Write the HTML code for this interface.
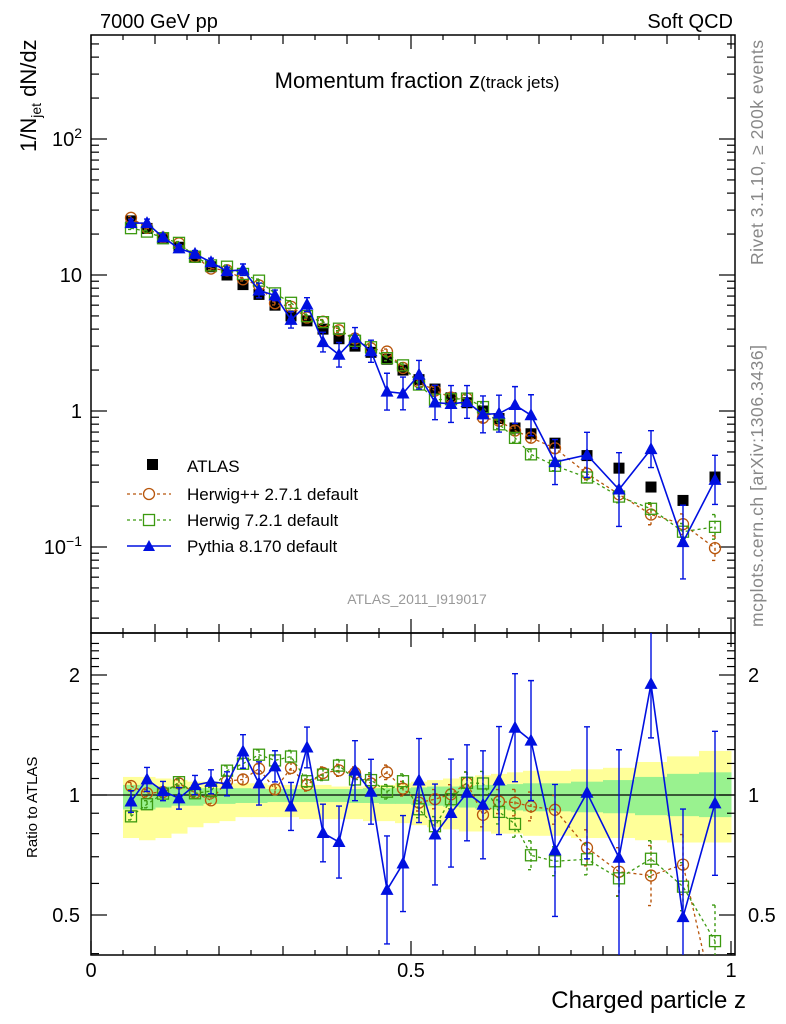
<!DOCTYPE html>
<html><head><meta charset="utf-8">
<style>
html,body{margin:0;padding:0;background:#fff;}
svg{display:block;font-family:"Liberation Sans",sans-serif;}
</style></head>
<body>
<svg id="c" width="786" height="1024" viewBox="0 0 786 1024" xmlns="http://www.w3.org/2000/svg">
<text x="100" y="28" font-size="20">7000 GeV pp</text>
<text x="733" y="28" font-size="20" text-anchor="end">Soft QCD</text>
<text x="417" y="88" font-size="22" text-anchor="middle">Momentum fraction z<tspan font-size="17">(track jets)</tspan></text>
<text transform="translate(36,152) rotate(-90)" font-size="22">1/N<tspan font-size="14" dy="5">jet</tspan><tspan dy="-5"> dN/dz</tspan></text>
<text transform="translate(37,858) rotate(-90)" font-size="15">Ratio to ATLAS</text>
<text x="746" y="1008" font-size="24" text-anchor="end">Charged particle z</text>
<text transform="translate(763,265) rotate(-90)" font-size="17.5" textLength="225" fill="#888">Rivet 3.1.10, ≥ 200k events</text>
<text transform="translate(763,627) rotate(-90)" font-size="17.5" textLength="282" fill="#888">mcplots.cern.ch [arXiv:1306.3436]</text>
<text x="417" y="604" font-size="14" fill="#999" text-anchor="middle">ATLAS_2011_I919017</text>
<g id="legend">
<rect x="147" y="459" width="11" height="11" fill="#000"/>
<text x="187" y="472" font-size="17">ATLAS</text>
<line x1="127" y1="494" x2="171" y2="494" stroke="#b8560c" stroke-width="1.3" stroke-dasharray="3,3"/>
<circle cx="149" cy="494" r="5.5" fill="#fff" stroke="#b8560c" stroke-width="1.3"/>
<text x="187" y="500" font-size="17">Herwig++ 2.7.1 default</text>
<line x1="127" y1="520" x2="171" y2="520" stroke="#3c9a10" stroke-width="1.3" stroke-dasharray="3,3"/>
<rect x="143.5" y="514.5" width="11" height="11" fill="#fff" stroke="#3c9a10" stroke-width="1.3"/>
<text x="187" y="526" font-size="17">Herwig 7.2.1 default</text>
<line x1="127" y1="546" x2="171" y2="546" stroke="#0010e0" stroke-width="1.5"/>
<polygon points="149,540 155,551 143,551" fill="#0010e0"/>
<text x="187" y="552" font-size="17">Pythia 8.170 default</text>
</g>
</svg>
<script>
const zCenters=[0.0625,0.0875,0.1125,0.1375,0.1625,0.1875,0.2125,0.2375,0.2625,0.2875,0.3125,0.3375,0.3625,0.3875,0.4125,0.4375,0.4625,0.4875,0.5125,0.5375,0.5625,0.5875,0.6125,0.6375,0.6625,0.6875,0.725,0.775,0.825,0.875,0.925,0.975];
const binEdges=[0.05,0.075,0.1,0.125,0.15,0.175,0.2,0.225,0.25,0.275,0.3,0.325,0.35,0.375,0.4,0.425,0.45,0.475,0.5,0.525,0.55,0.575,0.6,0.625,0.65,0.675,0.7,0.75,0.8,0.85,0.9,0.95,1.0];
const atlasVals=[25,22,18.5,16,13.5,11.5,10,8.5,7.2,6.0,5.0,4.6,4.0,3.4,3.0,2.7,2.4,2.0,1.7,1.45,1.25,1.15,1.0,0.88,0.75,0.68,0.58,0.47,0.38,0.276,0.22,0.327];
const herwigppRatio=[1.053,1.01,1.017,1.069,1.013,0.97,1.083,1.094,1.164,1.033,1.169,1.059,1.136,1.153,1.136,1.069,1.14,1.037,0.957,0.976,1.004,1.073,0.892,0.963,0.957,0.936,0.918,0.737,0.642,0.628,0.669,0.30];
const herwig7Ratio=[0.884,0.948,1.008,1.077,1.01,1.023,1.151,1.198,1.262,1.221,1.249,1.083,1.125,1.185,1.094,1.09,1.019,1.083,0.921,0.835,0.976,1.073,1.069,0.907,0.846,0.706,0.682,0.69,0.618,0.692,0.589,0.43];
const pythiaRatio=[0.963,1.094,1.023,0.981,1.059,1.079,1.067,1.286,1.069,1.18,0.936,1.316,0.803,0.762,1.151,1.019,0.578,0.673,1.087,0.796,0.901,1.013,0.945,1.087,1.475,1.369,0.726,1.013,0.696,1.9,0.494,0.953];
const herwigppErr=[0.03,0.03,0.03,0.03,0.03,0.03,0.04,0.04,0.04,0.04,0.05,0.05,0.05,0.05,0.05,0.06,0.06,0.06,0.07,0.08,0.08,0.09,0.1,0.1,0.11,0.12,0.12,0.15,0.2,0.25,0.25,0.3];
const herwig7Err=[0.03,0.03,0.03,0.03,0.03,0.03,0.04,0.04,0.04,0.04,0.05,0.05,0.05,0.05,0.05,0.06,0.06,0.06,0.07,0.08,0.08,0.09,0.1,0.1,0.11,0.12,0.12,0.13,0.15,0.15,0.2,0.3];
const pythiaErr=[0.09,0.1,0.08,0.09,0.08,0.1,0.1,0.14,0.18,0.13,0.2,0.17,0.24,0.3,0.25,0.27,0.45,0.4,0.35,0.42,0.45,0.4,0.45,0.45,0.45,0.5,0.55,0.55,0.9,0.45,0.9,0.6];
const yellowHi=[1.11,1.11,1.10,1.09,1.08,1.08,1.07,1.07,1.07,1.06,1.06,1.06,1.06,1.05,1.05,1.05,1.06,1.07,1.08,1.09,1.10,1.11,1.12,1.13,1.14,1.15,1.15,1.16,1.17,1.21,1.25,1.29];
const yellowLo=[0.78,0.77,0.78,0.80,0.83,0.85,0.86,0.88,0.88,0.88,0.88,0.87,0.87,0.87,0.87,0.86,0.86,0.85,0.84,0.83,0.82,0.81,0.81,0.80,0.80,0.79,0.79,0.78,0.78,0.77,0.76,0.76];
const greenHi=[1.06,1.06,1.05,1.05,1.04,1.04,1.04,1.04,1.035,1.035,1.035,1.035,1.035,1.035,1.035,1.04,1.04,1.04,1.045,1.05,1.05,1.055,1.06,1.06,1.065,1.07,1.07,1.08,1.09,1.11,1.13,1.14];
const greenLo=[0.92,0.92,0.93,0.94,0.94,0.95,0.95,0.955,0.955,0.96,0.96,0.96,0.96,0.96,0.955,0.955,0.95,0.95,0.945,0.94,0.935,0.93,0.925,0.92,0.915,0.91,0.91,0.905,0.90,0.89,0.885,0.88];
const mainYTicks=["10^-1","1","10","10^2"];
const ratioYTicks=["0.5","1","2"];
const xTicks=["0","0.5","1"];

const NS="http://www.w3.org/2000/svg";
const svg=document.getElementById('c');
const X0=91,X1=731,FR=735;
const MT=35,MB=633,RT=633,RB=955;
const sx=z=>X0+(X1-X0)*z;
const sy=v=>411-136*Math.log10(v);
const ry=r=>795-120*Math.log2(r);
function el(tag,attrs,parent){const e=document.createElementNS(NS,tag);for(const k in attrs)e.setAttribute(k,attrs[k]);(parent||svg).appendChild(e);return e;}

const defs=el('defs',{});
const c1=el('clipPath',{id:'cm'},defs);el('rect',{x:X0,y:MT,width:FR-X0,height:MB-MT},c1);
const c2=el('clipPath',{id:'cr'},defs);el('rect',{x:X0,y:RT,width:FR-X0,height:RB-RT},c2);

const bands=el('g',{'clip-path':'url(#cr)'});


for(let i=0;i<zCenters.length;i++){
 const a=sx(binEdges[i]),b=sx(binEdges[i+1]);
 const y=el('rect',{x:a,y:ry(yellowHi[i]),width:b-a+0.5,height:ry(yellowLo[i])-ry(yellowHi[i]),fill:'#ffff99'},bands);
 
 
}
for(let i=0;i<zCenters.length;i++){
 const a=sx(binEdges[i]),b=sx(binEdges[i+1]);
 const g=el('rect',{x:a,y:ry(greenHi[i]),width:b-a+0.5,height:ry(greenLo[i])-ry(greenHi[i]),fill:'#99f28f'},bands);
 
 
}
const one=el('line',{x1:X0,x2:FR,y1:ry(1),y2:ry(1),stroke:'#000','stroke-width':1.3});



const f1=el('rect',{x:X0,y:MT,width:FR-X0,height:MB-MT,fill:'none',stroke:'#000','stroke-width':1.5});


const f2=el('rect',{x:X0,y:RT,width:FR-X0,height:RB-RT,fill:'none',stroke:'#000','stroke-width':1.5});



const tk=el('g',{stroke:'#000','stroke-width':1.2});


for(let k=0;k<=20;k++){
 const z=k*0.05,x=sx(z),L=(k%10==0)?14:(k%2==0?9:5);
 el('line',{x1:x,x2:x,y1:MB,y2:MB-L},tk);el('line',{x1:x,x2:x,y1:MT,y2:MT+L},tk);
 el('line',{x1:x,x2:x,y1:RB,y2:RB-L},tk);el('line',{x1:x,x2:x,y1:RT,y2:RT+L},tk);
}
for(let d=-2;d<=2;d++){for(let m=1;m<10;m++){
 const y=sy(m*Math.pow(10,d));if(y<MT||y>MB)continue;const L=m==1?16:8;
 el('line',{x1:X0,x2:X0+L,y1:y,y2:y},tk);el('line',{x1:FR,x2:FR-L,y1:y,y2:y},tk);
}}
for(let r=0.4;r<=2.5;r+=0.1){
 const y=ry(r);if(y<RT||y>RB)continue;const big=Math.abs(r-0.5)<1e-6||Math.abs(r-1)<1e-6||Math.abs(r-2)<1e-6;const L=big?16:8;
 el('line',{x1:X0,x2:X0+L,y1:y,y2:y},tk);el('line',{x1:FR,x2:FR-L,y1:y,y2:y},tk);
}
const mainVals=[0.1,1,10,100];
mainYTicks.forEach((t,i)=>{
 const y=sy(mainVals[i]);
 const tx=el('text',{x:82,y:y+7,'font-size':20,'text-anchor':'end'});
 
 
 const p=t.split('^');
 if(p.length==1)tx.textContent=p[0];
 else{tx.appendChild(document.createTextNode(p[0]));const s=el('tspan',{dy:-8,'font-size':14},tx);s.textContent=p[1].replace('-','\u2212');}
});
const ratioVals=[0.5,1,2];
ratioYTicks.forEach((t,i)=>{
 const y=ry(ratioVals[i]);
 const a=el('text',{x:80,y:y+7,'font-size':20,'text-anchor':'end'});a.textContent=t;
 
 
 const b=el('text',{x:748,y:y+7,'font-size':20});b.textContent=t;
 
 
});
const xVals=[0,0.5,1];
xTicks.forEach((t,i)=>{
 const a=el('text',{x:sx(xVals[i]),y:977,'font-size':20,'text-anchor':'middle'});a.textContent=t;
 
 
});

function drawSeries(name,ratioArr,errArr,color,marker,dash,panel){
 const g=el('g',{'clip-path':panel=='main'?'url(#cm)':'url(#cr)'});
 
 
 const f=panel=='main'?(i=>sy(atlasVals[i]*ratioArr[i])):(i=>ry(ratioArr[i]));
 const fe=panel=='main'?((i,s)=>sy(atlasVals[i]*ratioArr[i]*Math.pow(2,s*errArr[i]))):((i,s)=>ry(ratioArr[i]*Math.pow(2,s*errArr[i])));
 const pts=zCenters.map((z,i)=>sx(z)+','+f(i)).join(' ');
 const pl=el('polyline',{points:pts,fill:'none',stroke:color,'stroke-width':marker=='tri'?1.6:1.3,'stroke-dasharray':dash||'none'},g);
 
 
 zCenters.forEach((z,i)=>{
  const x=sx(z),y=f(i);
  const e=el('path',{d:`M${x},${fe(i,1)}V${fe(i,-1)}M${x-3},${fe(i,1)}H${x+3}M${x-3},${fe(i,-1)}H${x+3}`,stroke:color,'stroke-width':1.4,fill:'none','stroke-dasharray':dash||'none'},g);
  
  
  let m;
  if(marker=='circle')m=el('circle',{cx:x,cy:y,r:5.5,fill:'none',stroke:color,'stroke-width':1.3},g);
  else if(marker=='square')m=el('rect',{x:x-5.5,y:y-5.5,width:11,height:11,fill:'none',stroke:color,'stroke-width':1.3},g);
  else m=el('polygon',{points:`${x},${y-7} ${x+6.5},${y+5} ${x-6.5},${y+5}`,fill:color},g);
  
  
 });
}
const ga=el('g',{'clip-path':'url(#cm)'});


zCenters.forEach((z,i)=>{
 const r=el('rect',{x:sx(z)-5.5,y:sy(atlasVals[i])-5.5,width:11,height:11,fill:'#000'},ga);
 
 
});
['main','ratio'].forEach(p=>{
 drawSeries('herwigpp',herwigppRatio,herwigppErr,'#b8560c','circle','3,3',p);
 drawSeries('herwig7',herwig7Ratio,herwig7Err,'#3c9a10','square','3,3',p);
 drawSeries('pythia',pythiaRatio,pythiaErr,'#0010e0','tri',null,p);
});
svg.appendChild(document.getElementById('legend'));
</script>
</body></html>
